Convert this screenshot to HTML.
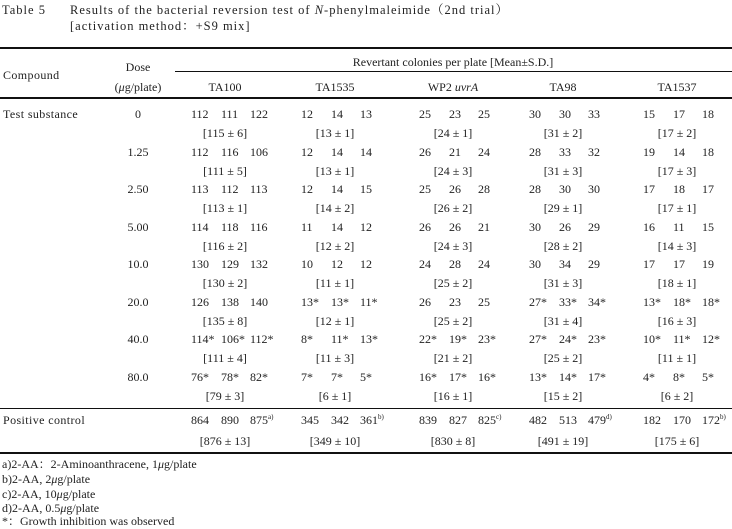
<!DOCTYPE html>
<html><head><meta charset="utf-8">
<style>
html,body{margin:0;padding:0;background:#fff;}
body{width:732px;height:529px;position:relative;overflow:hidden;font-family:"Liberation Serif","Noto Serif CJK SC",serif;font-size:12px;color:#222;}
.t{position:absolute;white-space:nowrap;line-height:14px;}
.c{transform:translateX(-50%);}
.l{position:absolute;background:#111;}
sup{font-size:7px;vertical-align:5px;line-height:0;}
.tt{font-size:12.5px;letter-spacing:1px;}
</style></head><body>
<div class="t tt" style="left:2px;top:3px">Table 5</div>
<div class="t tt" style="left:70px;top:3px">Results of the bacterial reversion test of <i>N</i>-phenylmaleimide（2nd trial）</div>
<div class="t tt" style="left:70px;top:19px">[activation method：+S9 mix]</div>
<div class="l" style="left:0;top:47px;width:732px;height:2px"></div>
<div class="l" style="left:175px;top:71px;width:557px;height:1px"></div>
<div class="l" style="left:0;top:97px;width:732px;height:2px"></div>
<div class="l" style="left:0;top:408px;width:732px;height:1px"></div>
<div class="l" style="left:0;top:452px;width:732px;height:2px"></div>
<div class="t" style="left:3px;top:68px;letter-spacing:0.4px">Compound</div>
<div class="t c" style="left:138px;top:60px">Dose</div>
<div class="t c" style="left:138px;top:80px">(<i>μ</i>g/plate)</div>
<div class="t c" style="left:453px;top:55px">Revertant colonies per plate [Mean±S.D.]</div>
<div id="root"></div>
<div class="t" style="left:2px;top:457px">a)2-AA：2-Aminoanthracene, 1<i>μ</i>g/plate</div>
<div class="t" style="left:2px;top:472px">b)2-AA, 2<i>μ</i>g/plate</div>
<div class="t" style="left:2px;top:487px">c)2-AA, 10<i>μ</i>g/plate</div>
<div class="t" style="left:2px;top:501px">d)2-AA, 0.5<i>μ</i>g/plate</div>
<div class="t" style="left:2px;top:514px">*：Growth inhibition was observed</div>
<script>
var cen=[225,335,453,563,677];
var hdr=['TA100','TA1535','WP2 <i>uvrA</i>','TA98','TA1537'];
var h='';
for(var i=0;i<5;i++)h+='<div class="t c" style="left:'+cen[i]+'px;top:80px">'+hdr[i]+'</div>';
var doses=['0','1.25','2.50','5.00','10.0','20.0','40.0','80.0','PC'];
var d=[
[['112','111','122','115 ± 6'],['12','14','13','13 ± 1'],['25','23','25','24 ± 1'],['30','30','33','31 ± 2'],['15','17','18','17 ± 2']],
[['112','116','106','111 ± 5'],['12','14','14','13 ± 1'],['26','21','24','24 ± 3'],['28','33','32','31 ± 3'],['19','14','18','17 ± 3']],
[['113','112','113','113 ± 1'],['12','14','15','14 ± 2'],['25','26','28','26 ± 2'],['28','30','30','29 ± 1'],['17','18','17','17 ± 1']],
[['114','118','116','116 ± 2'],['11','14','12','12 ± 2'],['26','26','21','24 ± 3'],['30','26','29','28 ± 2'],['16','11','15','14 ± 3']],
[['130','129','132','130 ± 2'],['10','12','12','11 ± 1'],['24','28','24','25 ± 2'],['30','34','29','31 ± 3'],['17','17','19','18 ± 1']],
[['126','138','140','135 ± 8'],['13*','13*','11*','12 ± 1'],['26','23','25','25 ± 2'],['27*','33*','34*','31 ± 4'],['13*','18*','18*','16 ± 3']],
[['114*','106*','112*','111 ± 4'],['8*','11*','13*','11 ± 3'],['22*','19*','23*','21 ± 2'],['27*','24*','23*','25 ± 2'],['10*','11*','12*','11 ± 1']],
[['76*','78*','82*','79 ± 3'],['7*','7*','5*','6 ± 1'],['16*','17*','16*','16 ± 1'],['13*','14*','17*','15 ± 2'],['4*','8*','5*','6 ± 2']],
[['864','890','875<sup>a)</sup>','876 ± 13'],['345','342','361<sup>b)</sup>','349 ± 10'],['839','827','825<sup>c)</sup>','830 ± 8'],['482','513','479<sup>d)</sup>','491 ± 19'],['182','170','172<sup>b)</sup>','175 ± 6']]
];
for(var r=0;r<9;r++){
 var y=(r<8)?(107+r*37.5):413;
 if(r==0)h+='<div class="t" style="left:3px;top:'+y+'px;letter-spacing:0.4px">Test substance</div>';
 if(r<8)h+='<div class="t c" style="left:138px;top:'+y+'px">'+doses[r]+'</div>';
 else h+='<div class="t" style="left:3px;top:'+y+'px;letter-spacing:0.4px">Positive control</div>';
 for(var c=0;c<5;c++){
  var v=d[r][c],x=cen[c];
  h+='<div class="t" style="left:'+(x-34)+'px;top:'+y+'px">'+v[0]+'</div>';
  h+='<div class="t" style="left:'+(x-4)+'px;top:'+y+'px">'+v[1]+'</div>';
  h+='<div class="t" style="left:'+(x+25)+'px;top:'+y+'px">'+v[2]+'</div>';
  h+='<div class="t c" style="left:'+x+'px;top:'+(y+(r<8?19:21))+'px">['+v[3]+']</div>';
 }
}
document.getElementById('root').innerHTML=h;
</script>
</body></html>
